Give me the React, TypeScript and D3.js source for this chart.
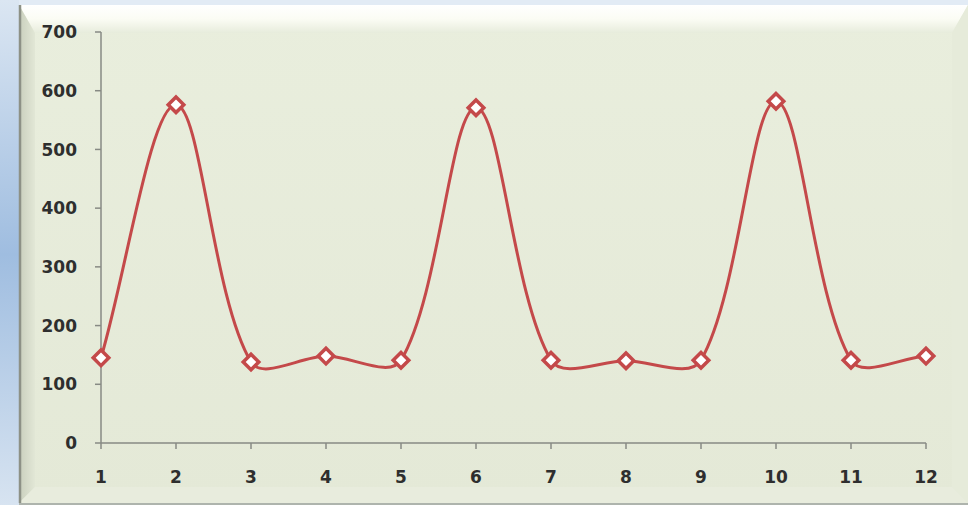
import React from "react";
import * as d3 from "d3";

const categories = [1, 2, 3, 4, 5, 6, 7, 8, 9, 10, 11, 12];
const values = [145, 576, 138, 148, 141, 571, 141, 140, 141, 582, 141, 148];
const yTicks = [0, 100, 200, 300, 400, 500, 600, 700];

const W = 968;
const H = 509;

// Smoothed path: cubic Bezier segments whose handles follow the neighbouring
// points, weighted by the segment lengths on either side.
function smoothPath(p: [number, number][]): string {
  const path = d3.path();
  const dist = (a: [number, number], b: [number, number]) => Math.hypot(b[0] - a[0], b[1] - a[1]);
  path.moveTo(p[0][0], p[0][1]);
  for (let i = 0; i < p.length - 1; i++) {
    const p0 = p[i - 1] ?? p[i];
    const p1 = p[i];
    const p2 = p[i + 1];
    const p3 = p[i + 2] ?? p[i + 1];
    const d01 = dist(p0, p1), d12 = dist(p1, p2), d23 = dist(p2, p3);
    const f1 = d01 + d12 > 0 ? d12 / (3 * (d01 + d12)) : 0;
    const f2 = d12 + d23 > 0 ? d12 / (3 * (d12 + d23)) : 0;
    path.bezierCurveTo(
      p1[0] + (p2[0] - p0[0]) * f1,
      p1[1] + (p2[1] - p0[1]) * f1,
      p2[0] - (p3[0] - p1[0]) * f2,
      p2[1] - (p3[1] - p1[1]) * f2,
      p2[0],
      p2[1]
    );
  }
  return path.toString();
}

export default function App() {
  const x = d3.scaleLinear().domain([1, 12]).range([101, 926]);
  const y = d3.scaleLinear().domain([0, 700]).range([443, 32]);

  const pts: [number, number][] = categories.map((c, i) => [x(c), y(values[i])]);
  const line = smoothPath(pts);

  // panel with bevelled frame
  const L = 19, T = 5, R = 968, B = 503, bw = 16;
  const labelFont = { fontFamily: "DejaVu Sans", fontWeight: 700, fontSize: 17, fill: "#2e2e2e" } as const;

  return (
    <div style={{ position: "absolute", left: 0, top: 0, width: W, height: H }}>
      <svg width={W} height={H} style={{ display: "block" }}>
        <defs>
          <linearGradient id="bgBlue" x1="0" y1="0" x2="0" y2="1">
            <stop offset="0" stopColor="#dbe6f2" />
            <stop offset="0.5" stopColor="#9fbde0" />
            <stop offset="1" stopColor="#d8e4f1" />
          </linearGradient>
          <linearGradient id="topBevel" x1="0" y1="0" x2="0" y2="1">
            <stop offset="0" stopColor="#ffffff" />
            <stop offset="0.5" stopColor="#fbfcf4" />
            <stop offset="1" stopColor="#e7ecdc" />
          </linearGradient>
          <linearGradient id="leftBevel" x1="0" y1="0" x2="1" y2="0">
            <stop offset="0" stopColor="#c9cfbd" />
            <stop offset="1" stopColor="#e2e7d6" />
          </linearGradient>
          <linearGradient id="panelFill" x1="0" y1="0" x2="0" y2="1">
            <stop offset="0" stopColor="#e9eedd" />
            <stop offset="1" stopColor="#e4e9d7" />
          </linearGradient>
        </defs>
        <rect x={0} y={0} width={W} height={H} fill="#e2ebf5" />
        <rect x={0} y={0} width={L} height={H} fill="url(#bgBlue)" />
        <rect x={L} y={T} width={R - L} height={B - T} fill="url(#panelFill)" />
        {/* bevels */}
        <polygon points={`${L},${T} ${R},${T} ${R - bw},${T + 28} ${L + bw},${T + 28}`} fill="url(#topBevel)" />
        <polygon points={`${L},${T} ${L + bw},${T + 28} ${L + bw},${B - bw} ${L},${B}`} fill="url(#leftBevel)" />
        <polygon points={`${R},${T} ${R},${B} ${R - bw},${B - bw} ${R - bw},${T + 28}`} fill="#e6ebda" />
        <polygon points={`${L},${B} ${R},${B} ${R - bw},${B - bw} ${L + bw},${B - bw}`} fill="#e8ecdd" />
        <line x1={L + 1} y1={T} x2={L + 1} y2={B} stroke="#8d9186" strokeWidth={2.5} />
        <line x1={L} y1={B + 1} x2={R} y2={B + 1} stroke="#9da294" strokeWidth={1.5} />
        <rect x={0} y={B + 2} width={W} height={H - B - 2} fill="#ffffff" />

        {/* axes */}
        <g stroke="#878a84" strokeWidth={1.5} fill="none">
          <line x1={x(1)} y1={y(700)} x2={x(1)} y2={y(0)} />
          <line x1={x(1)} y1={y(0)} x2={x(12)} y2={y(0)} />
          {yTicks.map((t) => (
            <line key={t} x1={x(1) - 6} x2={x(1)} y1={y(t)} y2={y(t)} />
          ))}
          {categories.map((c) => (
            <line key={c} x1={x(c)} x2={x(c)} y1={y(0)} y2={y(0) + 6} />
          ))}
        </g>
        {yTicks.map((t) => (
          <text key={t} x={77} y={y(t)} dy="0.36em" textAnchor="end" {...labelFont}>
            {t}
          </text>
        ))}
        {categories.map((c) => (
          <text key={c} x={x(c)} y={477} dy="0.36em" textAnchor="middle" {...labelFont}>
            {c}
          </text>
        ))}

        {/* series */}
        <path d={line} fill="none" stroke="#c4494a" strokeWidth={3} />
        {pts.map(([px, py], i) => (
          <rect
            key={i}
            x={px - 5.5}
            y={py - 5.5}
            width={11}
            height={11}
            transform={`rotate(45 ${px} ${py})`}
            fill="#ffffff"
            stroke="#c4494a"
            strokeWidth={3.5}
          />
        ))}
      </svg>
    </div>
  );
}
